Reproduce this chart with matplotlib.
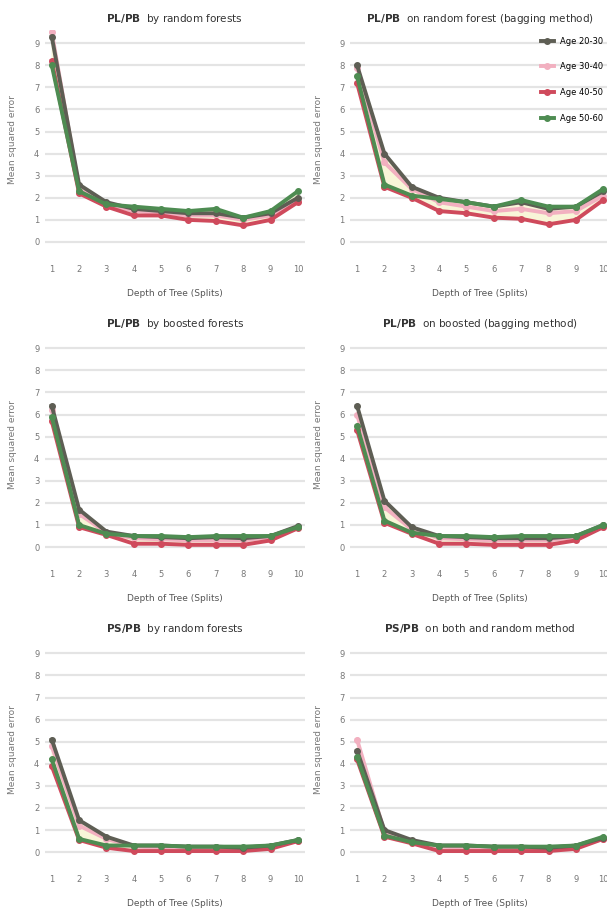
""" Error curves against tree depth for the PL/PB and PS/PB models """
import numpy as np
import matplotlib
matplotlib.use("Agg")
import matplotlib.pyplot as plt

depths = [1, 2, 3, 4, 5, 6, 7, 8, 9, 10]
age_groups = ["Age 20-30", "Age 30-40", "Age 40-50", "Age 50-60"]

titles = [
    ("PL/PB", "by random forests"),
    ("PL/PB", "on random forest (bagging method)"),
    ("PL/PB", "by boosted forests"),
    ("PL/PB", "on boosted (bagging method)"),
    ("PS/PB", "by random forests"),
    ("PS/PB", "on both and random method"),
]

# one list per age group, per panel
rf_20 = [9.3, 2.6, 1.8, 1.5, 1.4, 1.3, 1.3, 1.1, 1.3, 2.0]
rf_30 = [9.5, 2.4, 1.7, 1.4, 1.3, 1.2, 1.2, 1.0, 1.2, 1.9]
rf_40 = [8.2, 2.2, 1.6, 1.2, 1.2, 1.0, 0.95, 0.75, 1.0, 1.8]
rf_50 = [8.0, 2.3, 1.7, 1.6, 1.5, 1.4, 1.5, 1.1, 1.4, 2.3]

bag_20 = [8.0, 4.0, 2.5, 2.0, 1.8, 1.6, 1.8, 1.5, 1.6, 2.3]
bag_30 = [7.9, 3.6, 2.4, 1.8, 1.6, 1.4, 1.5, 1.3, 1.4, 2.1]
bag_40 = [7.2, 2.5, 2.0, 1.4, 1.3, 1.1, 1.05, 0.8, 1.0, 1.9]
bag_50 = [7.5, 2.6, 2.1, 1.95, 1.8, 1.6, 1.9, 1.6, 1.6, 2.4]

boost_20 = [6.4, 1.7, 0.7, 0.5, 0.45, 0.4, 0.45, 0.4, 0.5, 0.95]
boost_30 = [6.2, 1.5, 0.65, 0.4, 0.35, 0.3, 0.3, 0.3, 0.45, 0.9]
boost_40 = [5.7, 0.9, 0.55, 0.15, 0.15, 0.1, 0.1, 0.1, 0.3, 0.85]
boost_50 = [5.9, 1.0, 0.6, 0.5, 0.5, 0.45, 0.5, 0.5, 0.5, 0.9]

boostbag_20 = [6.4, 2.1, 0.9, 0.5, 0.45, 0.4, 0.4, 0.4, 0.5, 1.0]
boostbag_30 = [6.0, 1.8, 0.8, 0.4, 0.35, 0.3, 0.3, 0.3, 0.45, 0.9]
boostbag_40 = [5.3, 1.1, 0.6, 0.15, 0.15, 0.1, 0.1, 0.1, 0.3, 0.9]
boostbag_50 = [5.5, 1.2, 0.65, 0.5, 0.5, 0.45, 0.5, 0.5, 0.5, 1.0]

ps_rf_20 = [5.1, 1.45, 0.7, 0.3, 0.3, 0.25, 0.25, 0.2, 0.3, 0.55]
ps_rf_30 = [4.8, 1.2, 0.6, 0.25, 0.2, 0.2, 0.2, 0.2, 0.25, 0.5]
ps_rf_40 = [3.9, 0.55, 0.2, 0.05, 0.05, 0.05, 0.05, 0.05, 0.15, 0.5]
ps_rf_50 = [4.2, 0.6, 0.3, 0.3, 0.3, 0.25, 0.25, 0.25, 0.3, 0.55]

ps_both_20 = [4.6, 1.0, 0.55, 0.3, 0.3, 0.25, 0.25, 0.2, 0.3, 0.65]
ps_both_30 = [5.1, 0.9, 0.5, 0.25, 0.2, 0.2, 0.2, 0.2, 0.25, 0.6]
ps_both_40 = [4.2, 0.7, 0.4, 0.05, 0.05, 0.05, 0.05, 0.05, 0.15, 0.6]
ps_both_50 = [4.3, 0.75, 0.45, 0.3, 0.3, 0.25, 0.25, 0.25, 0.3, 0.7]

panels = [
    [rf_20, rf_30, rf_40, rf_50],
    [bag_20, bag_30, bag_40, bag_50],
    [boost_20, boost_30, boost_40, boost_50],
    [boostbag_20, boostbag_30, boostbag_40, boostbag_50],
    [ps_rf_20, ps_rf_30, ps_rf_40, ps_rf_50],
    [ps_both_20, ps_both_30, ps_both_40, ps_both_50],
]

colors = ["#5e5e54", "#f2b0c0", "#cf4a5c", "#4e8c52"]
zorders = [4, 2, 3, 5]


def draw_panel(ax, series, title, legend=False):
    arr = np.array(series)
    ax.fill_between(depths, arr.min(axis=0), arr.max(axis=0),
                    color="#f8f5d8", zorder=1)
    for s, label, c, z in zip(series, age_groups, colors, zorders):
        ax.plot(depths, s, color=c, lw=2.8, marker="o", ms=4,
                label=label, zorder=z)
    ax.set_xlim(0.75, 10.25)
    ax.set_ylim(-0.35, 9.6)
    ax.set_xticks(depths)
    ax.set_yticks(range(10))
    ax.tick_params(labelsize=6, length=0, colors="#777777", pad=4)
    ax.tick_params(axis="x", pad=11)
    ax.grid(axis="y", color="#e4e4e4", lw=1.6)
    ax.set_axisbelow(True)
    for sp in ax.spines.values():
        sp.set_visible(False)
    ax.set_title(r"$\mathbf{%s}$  %s" % title, fontsize=7.5, color="#333333", pad=6)
    ax.set_xlabel("Depth of Tree (Splits)", fontsize=6.5, color="#555555", labelpad=11)
    ax.set_ylabel("Mean squared error", fontsize=6.5, color="#777777", labelpad=12)
    if legend:
        ax.legend(loc="upper right", fontsize=6, frameon=False,
                  handlelength=1.5, labelspacing=2.0, borderaxespad=0.4)


fig = plt.figure(figsize=(6.07, 9.08), dpi=100)
lefts = [0.074, 0.577]
bottoms = [0.725, 0.389, 0.053]
for i in range(6):
    row, col = divmod(i, 2)
    ax = fig.add_axes([lefts[col], bottoms[row], 0.428, 0.242])
    draw_panel(ax, panels[i], titles[i], legend=(i == 1))

fig.savefig("out.png", dpi=100)
